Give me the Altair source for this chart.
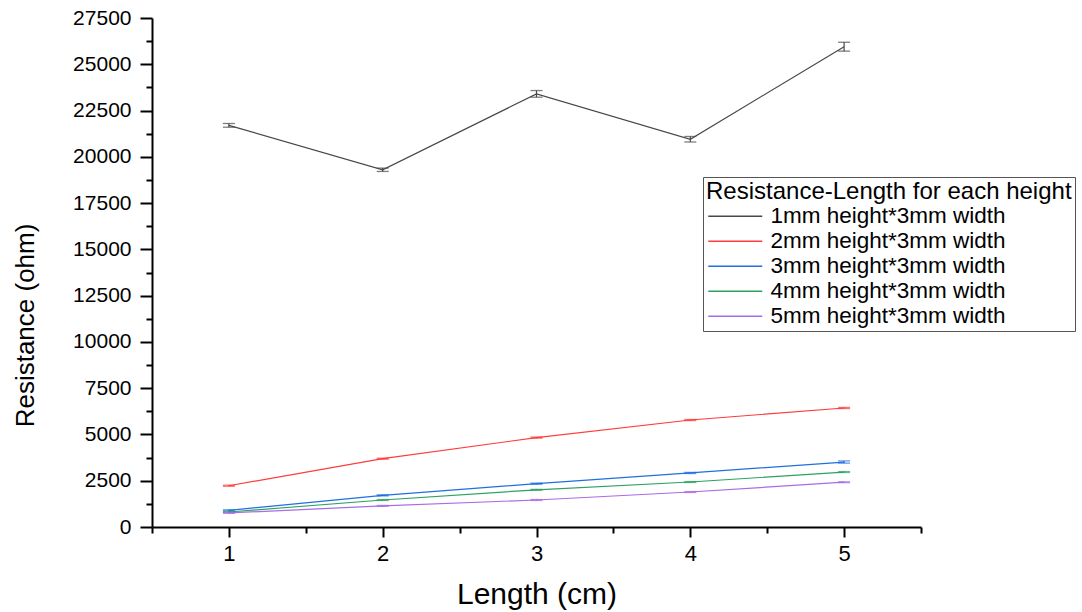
import altair as alt
import pandas as pd

# Resistance (ohm) measured for sample lengths 1-5 cm, one series per sample height
lengths = [1, 2, 3, 4, 5]
series_names = [
    "1mm height*3mm width",
    "2mm height*3mm width",
    "3mm height*3mm width",
    "4mm height*3mm width",
    "5mm height*3mm width",
]
r_1mm = [21700, 19300, 23400, 20950, 25950]
r_2mm = [2230, 3690, 4830, 5780, 6430]
r_3mm = [900, 1710, 2340, 2920, 3510]
r_4mm = [810, 1460, 2010, 2430, 2970]
r_5mm = [760, 1140, 1460, 1890, 2420]

# standard deviation of each measurement
e_1mm = [100, 90, 180, 150, 240]
e_2mm = [30, 30, 30, 30, 30]
e_3mm = [30, 30, 30, 30, 60]
e_4mm = [25, 25, 25, 25, 25]
e_5mm = [25, 25, 25, 25, 25]

line_colors = ["#474747", "#ff3b3b", "#1f6fe0", "#2ca25f", "#a96be6"]

FONT = "Liberation Sans"

rows = []
for name, vals, errs in zip(
    series_names,
    [r_1mm, r_2mm, r_3mm, r_4mm, r_5mm],
    [e_1mm, e_2mm, e_3mm, e_4mm, e_5mm],
):
    for length, v, e in zip(lengths, vals, errs):
        rows.append({"length": length, "resistance": v, "lo": v - e, "hi": v + e, "series": name})
df = pd.DataFrame(rows)

x_scale = alt.Scale(domain=[0.5, 5.5], nice=False, zero=False)
y_scale = alt.Scale(domain=[0, 27500], nice=False)
color_scale = alt.Scale(domain=series_names, range=line_colors)

major_x = alt.Axis(
    values=lengths, format="d", tickSize=10, tickWidth=2, domainWidth=2,
    domainColor="black", tickColor="black", labelColor="black",
    labelFont=FONT, labelFontSize=22, labelPadding=6, grid=False,
    title="Length (cm)", titleFont=FONT, titleFontSize=30, titleFontWeight="normal",
    titleColor="black", titleBaseline="alphabetic", titleY=76,
)
major_y = alt.Axis(
    values=list(range(0, 27501, 2500)), format="d", tickSize=12, tickWidth=2, domainWidth=2,
    domainColor="black", tickColor="black", labelColor="black",
    labelFont=FONT, labelFontSize=21, labelPadding=9, grid=False,
    title="Resistance (ohm)", titleFont=FONT, titleFontSize=26, titleFontWeight="normal",
    titleColor="black", titleAngle=270, titleBaseline="alphabetic", titleAlign="center",
    titleX=-119, titleY=307,
)
minor_x = alt.Axis(
    orient="bottom", values=[0.5, 1.5, 2.5, 3.5, 4.5, 5.5], tickSize=6, tickWidth=2,
    tickColor="black", labels=False, domain=False, grid=False, title=None,
)
minor_y = alt.Axis(
    orient="left", values=[1250 + 2500 * i for i in range(11)], tickSize=6, tickWidth=2,
    tickColor="black", labels=False, domain=False, grid=False, title=None,
)

legend = alt.Legend(
    title="Resistance-Length for each height",
    orient="none", legendX=551, legendY=159,
    symbolType="M-1,0H5", symbolSize=324, symbolStrokeWidth=1.3,
    labelFont=FONT, labelFontSize=22.5, labelColor="black", labelOffset=42, labelLimit=500,
    titleFont=FONT, titleFontSize=24, titleFontWeight="normal", titleColor="black",
    titleLimit=600, titlePadding=1, rowPadding=2,
    padding=3, strokeColor="#555555", fillColor="white",
)

base = alt.Chart(df)

lines = base.mark_line(strokeWidth=1.2).encode(
    x=alt.X("length:Q", scale=x_scale, axis=major_x),
    y=alt.Y("resistance:Q", scale=y_scale, axis=major_y),
    color=alt.Color("series:N", scale=color_scale, legend=legend, sort=series_names),
    detail="series:N",
)

err_rules = base.mark_rule(strokeWidth=1.2).encode(
    x=alt.X("length:Q", scale=x_scale, axis=None),
    y=alt.Y("lo:Q", scale=y_scale, axis=None),
    y2="hi:Q",
    color=alt.Color("series:N", scale=color_scale, legend=None),
)
err_caps_lo = base.mark_tick(orient="horizontal", size=12, thickness=1.3).encode(
    x=alt.X("length:Q", scale=x_scale, axis=None),
    y=alt.Y("lo:Q", scale=y_scale, axis=None),
    color=alt.Color("series:N", scale=color_scale, legend=None),
)
err_caps_hi = base.mark_tick(orient="horizontal", size=12, thickness=1.3).encode(
    x=alt.X("length:Q", scale=x_scale, axis=None),
    y=alt.Y("hi:Q", scale=y_scale, axis=None),
    color=alt.Color("series:N", scale=color_scale, legend=None),
)

# invisible layer that carries the minor tick axes
minor = base.mark_point(opacity=0).encode(
    x=alt.X("length:Q", scale=x_scale, axis=minor_x),
    y=alt.Y("resistance:Q", scale=y_scale, axis=minor_y),
)

chart = (
    alt.layer(lines, err_rules, err_caps_lo, err_caps_hi, minor)
    .resolve_axis(x="independent", y="independent")
    .properties(
        width=769,
        height=509,
        autosize=alt.AutoSizeParams(type="none"),
        padding={"left": 152, "top": 18, "right": 161, "bottom": 85},
        background="white",
    )
    .configure_view(stroke=None)
)

chart.save("out.html", embed_options={"renderer": "svg", "actions": False})
